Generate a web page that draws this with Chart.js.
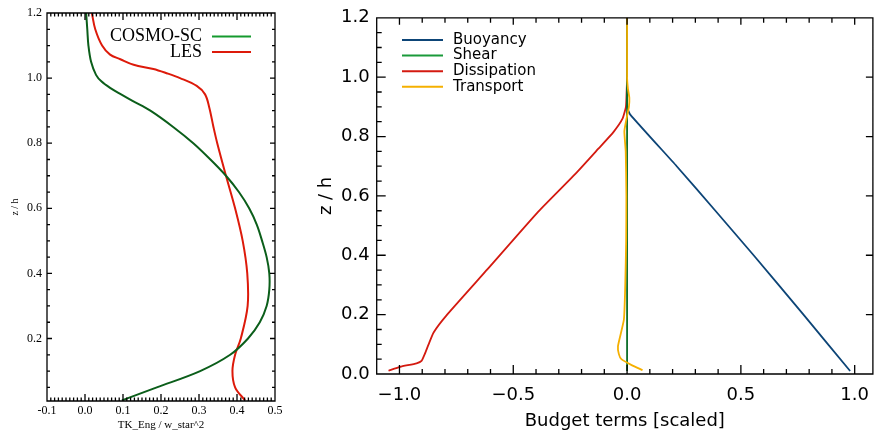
<!DOCTYPE html>
<html>
<head>
<meta charset="utf-8">
<script src="https://cdn.jsdelivr.net/npm/chart.js@4.4.1/dist/chart.umd.min.js"></script>
<style>
  html, body { margin: 0; padding: 0; background: #fff; overflow: hidden; width: 877px; height: 432px; }
  canvas { position: absolute; top: 0; }
  #left { left: 0; }
  #right { left: 290px; }
</style>
</head>
<body>
<canvas id="left" width="290" height="432"></canvas>
<canvas id="right" width="590" height="432"></canvas>
<script>
// left panel: TKE profiles (z/h vs TK_Eng / w_star^2)
const zCosmo  = [0.01, 0.05, 0.1, 0.15, 0.2, 0.25, 0.3, 0.35, 0.4, 0.45, 0.5, 0.55, 0.6, 0.65, 0.7, 0.75, 0.8, 0.85, 0.9, 0.93, 0.95, 0.97, 0.99, 1.01, 1.05, 1.1, 1.15, 1.2];
const cosmoSC = [0.097, 0.189, 0.303, 0.382, 0.429, 0.46, 0.478, 0.485, 0.485, 0.478, 0.466, 0.452, 0.432, 0.405, 0.371, 0.33, 0.285, 0.232, 0.172, 0.125, 0.095, 0.066, 0.043, 0.029, 0.016, 0.009, 0.006, 0.003];
const zLes = [0.01, 0.05, 0.1, 0.15, 0.2, 0.3, 0.4, 0.5, 0.6, 0.7, 0.8, 0.85, 0.91, 0.95, 0.976, 1.0, 1.015, 1.028, 1.041, 1.058, 1.072, 1.1, 1.15, 1.2];
const les  = [0.421, 0.395, 0.388, 0.395, 0.41, 0.428, 0.427, 0.415, 0.395, 0.371, 0.348, 0.338, 0.327, 0.316, 0.294, 0.25, 0.215, 0.18, 0.128, 0.093, 0.066, 0.045, 0.027, 0.018];
const tkeTicks = [-0.1, 0.0, 0.1, 0.2, 0.3, 0.4, 0.5];
const zTicksLeft = [0.2, 0.4, 0.6, 0.8, 1.0, 1.2];

// right panel: scaled TKE budget terms
const zBuoy = [0.01, 0.2, 0.4, 0.55, 0.7, 0.874, 0.9, 1.2];
const buoyancy = [0.98, 0.775, 0.556, 0.388, 0.218, 0.014, 0.0, 0.0];
const zShear = [0.01, 0.5, 1.0, 1.2];
const shear = [0.0, 0.0, 0.0, 0.0];
const zDiss = [0.011, 0.024, 0.036, 0.044, 0.067, 0.1, 0.14, 0.196, 0.353, 0.547, 0.675, 0.759, 0.815, 0.86, 0.9, 0.95, 1.0, 1.2];
const dissipation = [-1.048, -0.997, -0.925, -0.903, -0.889, -0.872, -0.85, -0.795, -0.613, -0.39, -0.226, -0.126, -0.06, -0.02, -0.005, -0.002, 0.0, 0.0];
const zTrans = [0.013, 0.03, 0.05, 0.067, 0.094, 0.183, 0.3, 0.45, 0.6, 0.75, 0.817, 0.85, 0.9, 0.93, 0.96, 1.0, 1.2];
const transport = [0.068, 0.02, -0.025, -0.036, -0.04, -0.014, -0.008, -0.004, -0.003, -0.006, -0.012, -0.005, 0.008, 0.01, 0.004, 0.0, 0.0];
const budgetTicks = [-1.0, -0.5, 0.0, 0.5, 1.0];
const zTicksRight = [0.0, 0.2, 0.4, 0.6, 0.8, 1.0, 1.2];

const pts = (xs, zs) => xs.map((v, i) => ({ x: v, y: zs[i] }));

// IDL-like box with inward ticks on all sides
const boxTicks = {
  id: 'boxTicks',
  afterDatasetsDraw(chart, args, o) {
    const { ctx, chartArea: a, scales: { x: sx, y: sy } } = chart;
    const steps = (s, step) => {
      const out = [];
      for (let i = Math.ceil(s.min / step - 1e-6); i * step <= s.max + 1e-9; i++) out.push(i * step);
      return out;
    };
    const isMajor = (v, step) => Math.abs(v / step - Math.round(v / step)) < 1e-6;
    ctx.save();
    ctx.strokeStyle = '#000';
    ctx.lineWidth = o.width;
    ctx.beginPath();
    ctx.rect(a.left, a.top, a.right - a.left, a.bottom - a.top);
    steps(sx, o.xMinor).forEach(v => {
      const p = sx.getPixelForValue(v);
      const m = isMajor(v, o.xMajor) ? 0 : 1;
      if (o.bottom[m]) { ctx.moveTo(p, a.bottom); ctx.lineTo(p, a.bottom - o.bottom[m]); }
      if (o.top[m]) { ctx.moveTo(p, a.top); ctx.lineTo(p, a.top + o.top[m]); }
    });
    steps(sy, o.yMinor).forEach(v => {
      const p = sy.getPixelForValue(v);
      const m = isMajor(v, o.yMajor) ? 0 : 1;
      if (o.left[m]) { ctx.moveTo(a.left, p); ctx.lineTo(a.left + o.left[m], p); }
      if (o.right[m]) { ctx.moveTo(a.right, p); ctx.lineTo(a.right - o.right[m], p); }
    });
    ctx.stroke();
    ctx.restore();
  }
};

// legend drawn inside the plot area
const lineLegend = {
  id: 'lineLegend',
  afterDraw(chart, args, o) {
    const ctx = chart.ctx;
    ctx.save();
    ctx.font = o.font;
    ctx.textBaseline = 'middle';
    ctx.textAlign = o.align;
    chart.data.datasets.forEach((ds, i) => {
      const y = o.y + i * o.dy;
      ctx.strokeStyle = ds.legendColor || ds.borderColor;
      ctx.lineWidth = 2;
      ctx.beginPath();
      ctx.moveTo(o.lineX0, y);
      ctx.lineTo(o.lineX1, y);
      ctx.stroke();
      ctx.fillStyle = '#000';
      ctx.fillText(ds.label, o.textX, y);
    });
    ctx.restore();
  }
};

const serif = 'Liberation Serif';
const sans = 'DejaVu Sans';

new Chart(document.getElementById('left'), {
  type: 'scatter',
  data: {
    datasets: [
      { label: 'COSMO-SC', data: pts(cosmoSC, zCosmo), borderColor: '#0b5e1a', legendColor: '#159a2e' },
      { label: 'LES', data: pts(les, zLes), borderColor: '#dd1a0a' },
    ].map(d => Object.assign(d, { showLine: true, pointRadius: 0, borderWidth: 2, tension: 0.35 })),
  },
  options: {
    responsive: false,
    animation: false,
    layout: { padding: { top: 13, right: 15, left: 0, bottom: 0 } },
    plugins: {
      legend: { display: false },
      tooltip: { enabled: false },
      boxTicks: { width: 1.3, xMajor: 0.1, xMinor: 0.01, yMajor: 0.2, yMinor: 0.05,
        bottom: [7, 3.5], top: [7, 3.5], left: [5, 3], right: [5, 3] },
      lineLegend: { font: '18px "' + serif + '"', align: 'right', textX: 202, lineX0: 212, lineX1: 251, y: 36.5, dy: 15.5 },
    },
    scales: {
      x: {
        type: 'linear', min: -0.1, max: 0.5,
        grid: { display: false, drawTicks: false }, border: { display: false },
        afterBuildTicks: s => { s.ticks = tkeTicks.map(v => ({ value: v })); },
        afterFit: s => { s.height = 31; },
        ticks: { padding: 3, color: '#000', font: { family: serif, size: 12 }, callback: v => v.toFixed(1) },
        title: { display: true, text: 'TK_Eng / w_star^2', color: '#000', font: { family: serif, size: 11 }, padding: { top: 0, bottom: 0 } },
      },
      y: {
        type: 'linear', min: 0.008, max: 1.2,
        grid: { display: false, drawTicks: false }, border: { display: false },
        afterBuildTicks: s => { s.ticks = zTicksLeft.map(v => ({ value: v })); },
        afterFit: s => { s.width = 47; },
        ticks: { padding: 5, color: '#000', font: { family: serif, size: 12 }, callback: v => v.toFixed(1) },
        title: { display: true, text: 'z / h', color: '#000', font: { family: serif, size: 10 }, padding: { top: 9, bottom: 0 } },
      },
    },
  },
  plugins: [boxTicks, lineLegend],
});

new Chart(document.getElementById('right'), {
  type: 'scatter',
  data: {
    datasets: [
      { label: 'Buoyancy', data: pts(buoyancy, zBuoy), borderColor: '#0d4577', order: 2 },
      { label: 'Shear', data: pts(shear, zShear), borderColor: '#0b6e28', legendColor: '#1a9a3a', order: 1 },
      { label: 'Dissipation', data: pts(dissipation, zDiss), borderColor: '#d41a10', order: 3 },
      { label: 'Transport', data: pts(transport, zTrans), borderColor: '#f5b000', order: 0 },
    ].map(d => Object.assign(d, { showLine: true, pointRadius: 0, borderWidth: 1.8, tension: 0.15 })),
  },
  options: {
    responsive: false,
    animation: false,
    layout: { padding: { top: 14.5, right: 0, left: 0, bottom: 0 } },
    plugins: {
      legend: { display: false },
      tooltip: { enabled: false },
      boxTicks: { width: 1.3, xMajor: 0.5, xMinor: 0.1, yMajor: 0.2, yMinor: 0.05,
        bottom: [9, 5], top: [7, 5], left: [9, 5], right: [7, 0] },
      lineLegend: { font: '15px "' + sans + '"', align: 'left', textX: 163, lineX0: 112, lineX1: 153, y: 40, dy: 15.6 },
    },
    scales: {
      x: {
        type: 'linear', min: -1.1, max: 1.08,
        grid: { display: false, drawTicks: false }, border: { display: false },
        afterBuildTicks: s => { s.ticks = budgetTicks.map(v => ({ value: v })); },
        afterFit: s => { s.height = 58; },
        ticks: { padding: 11, color: '#000', font: { family: sans, size: 18 }, callback: v => (v < 0 ? '\u2212' : '') + Math.abs(v).toFixed(1) },
        title: { display: true, text: 'Budget terms [scaled]', color: '#000', font: { family: sans, size: 18 }, padding: { top: 0, bottom: 0 } },
      },
      y: {
        type: 'linear', min: 0, max: 1.2,
        grid: { display: false, drawTicks: false }, border: { display: false },
        afterBuildTicks: s => { s.ticks = zTicksRight.map(v => ({ value: v })); },
        afterFit: s => { s.width = 86.7; },
        ticks: { padding: 7, color: '#000', font: { family: sans, size: 18 }, callback: v => v.toFixed(1) },
        title: { display: true, text: 'z / h', color: '#000', font: { family: sans, size: 18 }, padding: { top: 26, bottom: 0 } },
      },
    },
  },
  plugins: [boxTicks, lineLegend],
});
</script>
</body>
</html>
